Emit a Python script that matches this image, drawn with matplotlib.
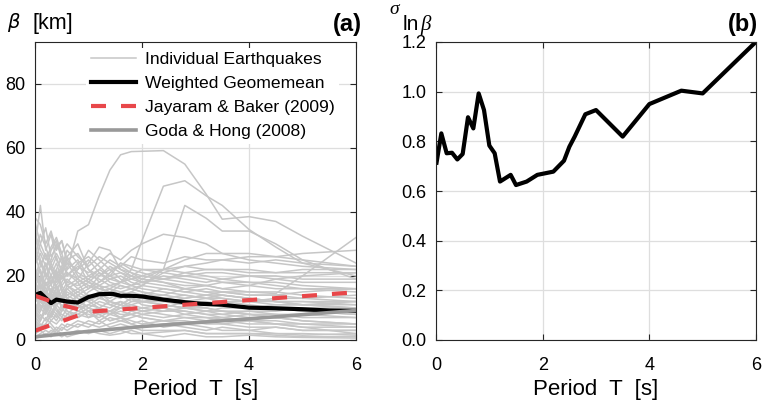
import numpy as np
import matplotlib
matplotlib.use('Agg')
import matplotlib.pyplot as plt

plt.rcParams['font.family'] = ['Liberation Sans', 'DejaVu Sans']

# periods used for the individual earthquake curves
periods = [0.01, 0.1, 0.2, 0.3, 0.4, 0.5, 0.6, 0.8, 1.0, 1.2, 1.4, 1.6, 1.8, 2.0,
           2.4, 2.8, 3.2, 3.5, 4.0, 4.5, 5.0, 6.0]

# range parameter of each earthquake [km]
eq_beta = [
    [18, 22, 17, 20, 24, 19, 22, 34, 36, 45, 53, 57.8, 58.8, 58.9, 59.1, 54.9, 45.5, 37.7, 38.5, 37, 32.4, 24],
    [15, 12, 18, 14, 20, 16, 13, 15, 17, 16, 17, 18, 22, 31, 48, 49.7, 45, 42, 34.5, 29, 24, 20],
    [10, 13, 9, 14, 11, 12, 15, 13, 12, 14, 13, 15, 16, 17, 22, 42, 38, 34, 34, 30, 25, 19],
    [20, 25, 21, 18, 22, 26, 20, 23, 21, 24, 27, 25, 28, 30, 33, 32, 30, 27, 25, 24, 23, 22],
    [8, 12, 10, 7, 11, 9, 12, 10, 11, 13, 12, 14, 15, 14, 16, 15, 16, 15, 15, 14.5, 20, 32],
    [30, 42, 28, 33, 25, 22, 26, 20, 18, 21, 19, 20, 18, 17, 16, 15, 14, 14, 13, 12, 12, 11],
    [38, 36, 30, 34, 28, 31, 25, 27, 22, 20, 23, 21, 20, 19, 18, 17, 17, 16, 15, 15, 14, 13],
    [25, 30, 35, 26, 29, 31, 24, 22, 28, 25, 22, 23, 21, 20, 22, 21, 20, 19, 20, 19, 18, 18],
    [12, 15, 22, 28, 31, 25, 20, 24, 18, 16, 15, 17, 16, 15, 13, 12, 12, 11, 10, 10, 9, 8],
    [5, 8, 6, 10, 14, 20, 26, 30, 22, 18, 20, 24, 22, 21, 19, 18, 17, 16, 17, 19, 20, 21],
    [22, 18, 24, 20, 16, 18, 21, 19, 24, 29, 28, 22, 20, 18, 17, 16, 15, 14, 13, 12, 11, 10],
    [3, 5, 4, 6, 5, 7, 6, 8, 7, 9, 8, 10, 9, 10, 11, 10, 11, 12, 12, 13, 13, 14],
    [1, 2, 3, 2, 4, 3, 5, 4, 6, 5, 7, 6, 7, 8, 7, 8, 9, 8, 9, 9, 10, 10],
    [14, 10, 12, 16, 13, 15, 11, 14, 16, 20, 22, 19, 17, 16, 15, 14, 13, 13, 12, 11, 11, 10],
    [17, 20, 14, 18, 22, 17, 19, 16, 14, 13, 15, 14, 12, 12, 11, 10, 10, 9, 9, 8, 8, 7],
    [9, 6, 11, 8, 12, 14, 10, 12, 15, 17, 14, 13, 15, 17, 21, 23, 24, 25, 26, 26, 27, 28],
    [28, 24, 20, 23, 18, 20, 17, 19, 16, 18, 21, 24, 23, 22, 22, 23, 22, 22, 21, 21, 22, 22],
    [6, 4, 7, 5, 3, 5, 4, 6, 5, 4, 5, 6, 5, 4, 5, 4, 3, 4, 3, 4, 3, 3],
    [2, 3, 1.5, 3, 2, 1, 2, 3, 2, 3, 2, 3, 2, 2, 1, 2, 1, 1, 1.5, 1, 0.8, 0.6],
    [11, 9, 13, 10, 8, 11, 9, 8, 10, 9, 8, 9, 8, 7, 6, 7, 6, 5, 6, 5, 5, 4],
    [19, 23, 27, 22, 19, 21, 25, 21, 19, 22, 20, 18, 19, 20, 19, 20, 21, 21, 20, 20, 19, 19],
    [7, 10, 8, 12, 9, 8, 7, 9, 11, 10, 12, 11, 13, 12, 13, 14, 13, 12, 11, 10, 9, 8],
    [24, 27, 23, 25, 30, 27, 22, 25, 20, 22, 25, 23, 26, 25, 24, 26, 25, 25, 24, 25, 24, 23],
    [4, 7, 9, 6, 8, 6, 8, 7, 9, 8, 6, 7, 6, 5, 6, 5, 6, 7, 6, 5, 4, 2],
    [13, 17, 15, 20, 17, 13, 16, 18, 13, 11, 10, 12, 11, 10, 9, 9, 8, 8, 7, 7, 6, 5],
    [33, 28, 25, 29, 32, 27, 30, 26, 23, 26, 24, 22, 21, 19, 18, 16, 15, 15, 14, 14, 13, 12],
    [16, 14, 18, 15, 17, 20, 18, 17, 19, 17, 16, 18, 20, 22, 21, 20, 19, 18, 17, 16, 16, 15],
    [10, 12, 15, 12, 14, 10, 13, 11, 9, 10, 9, 10, 11, 12, 12, 11, 10, 9, 8, 7, 6, 5],
    [21, 16, 19, 24, 20, 23, 28, 24, 26, 23, 20, 21, 19, 18, 20, 19, 18, 19, 18, 18, 17, 16],
    [27, 33, 29, 24, 27, 24, 21, 18, 20, 19, 17, 16, 17, 18, 19, 21, 22, 22, 22, 21, 21, 21],
    [5, 3, 5, 8, 6, 9, 11, 9, 8, 7, 9, 8, 8, 9, 8, 7, 7, 6, 5, 5, 4, 4],
    [15, 19, 24, 17, 21, 15, 18, 22, 25, 21, 18, 17, 16, 15, 14, 13, 14, 13, 12, 12, 11, 11],
    [8, 11, 9, 13, 16, 12, 14, 12, 10, 12, 11, 10, 12, 13, 14, 16, 17, 18, 18, 17, 16, 16],
    [12, 14, 11, 16, 13, 17, 14, 16, 18, 17, 19, 18, 17, 19, 22, 25, 27, 27, 27, 26, 25, 23],
    [36, 30, 26, 22, 26, 21, 24, 19, 17, 15, 16, 14, 13, 12, 11, 10, 9, 9, 8, 8, 7, 7],
    [0.5, 1, 2, 1, 3, 2, 1, 2, 3, 2, 1.5, 2, 3, 2, 2.5, 3, 2, 2, 2, 1.5, 1, 1],
    [26, 21, 16, 12, 15, 10, 8, 11, 7, 8, 6, 7, 5, 6, 4, 5, 4, 3, 3, 2, 2, 1.5],
    [9, 14, 18, 15, 11, 13, 9, 7, 9, 6, 8, 7, 9, 8, 9, 10, 9, 10, 10, 11, 11, 12],
    [3, 6, 9, 13, 10, 7, 10, 14, 12, 10, 9, 11, 10, 9, 10, 8, 7, 7, 6, 6, 5, 5],
    [14, 18, 13, 9, 7, 10, 13, 10, 13, 15, 12, 11, 13, 11, 10, 12, 13, 14, 13, 12, 12, 12],
    [32, 25, 20, 17, 14, 12, 16, 13, 10, 8, 9, 7, 8, 7, 6, 6, 5, 5, 4, 4, 3, 3],
    [6, 9, 14, 11, 17, 13, 17, 15, 13, 14, 16, 15, 14, 13, 12, 13, 14, 15, 14, 14, 15, 16],
    [2, 4, 5, 4, 2, 4, 3, 5, 4, 6, 4, 5, 4, 3, 3, 3, 2, 2, 2, 2, 1.5, 2],
    [18, 13, 10, 15, 19, 22, 17, 14, 12, 14, 11, 12, 10, 9, 10, 9, 8, 7, 8, 7, 8, 9],
]

# weighted geomean
gm_T = [0.01, 0.1, 0.2, 0.3, 0.4, 0.6, 0.8, 1.0, 1.2, 1.45, 1.6, 1.8, 2.0, 2.4, 2.8, 3.1,
        3.5, 4.0, 4.5, 5.0, 5.5, 6.0]
gm_beta = [14.1, 14.7, 13.1, 11.5, 12.6, 12.0, 11.7, 13.4, 14.3, 14.4, 13.8, 13.8, 13.6,
           12.6, 11.8, 11.3, 11.0, 10.1, 9.9, 9.6, 9.2, 9.1]

# Jayaram & Baker (2009), two branches below 1 s
jb_T = [0, 0.5, 1, 6]
jb_beta_a = [13.8, 10.9, 8.8, 14.9]
jb_T2 = [0, 1]
jb_beta_b = [2.9, 8.8]

# Goda & Hong (2008)
gh_T = [0, 1, 2, 3, 4, 5, 6]
gh_beta = [1.0, 2.7, 4.2, 5.4, 6.6, 7.9, 9.2]

# standard deviation of ln(beta)
sig_T = [0.01, 0.1, 0.2, 0.3, 0.4, 0.5, 0.6, 0.7, 0.8, 0.9, 1.0, 1.1, 1.2, 1.4, 1.5, 1.7,
         1.9, 2.2, 2.4, 2.5, 2.6, 2.8, 3.0, 3.5, 4.0, 4.6, 5.0, 6.0]
sig_lnb = [0.714, 0.832, 0.752, 0.754, 0.727, 0.749, 0.897, 0.852, 0.993, 0.926, 0.783,
           0.752, 0.638, 0.665, 0.624, 0.638, 0.665, 0.678, 0.722, 0.778, 0.819, 0.909,
           0.926, 0.819, 0.950, 1.004, 0.993, 1.201]

fig = plt.figure(figsize=(7.63, 4.04), dpi=100)
ax1 = fig.add_axes([35/763, 64/404, 321/763, 298/404])
ax2 = fig.add_axes([436/763, 64/404, 320/763, 298/404])

for ax in (ax1, ax2):
    ax.grid(True, color='#dedede', linewidth=0.9)
    ax.set_axisbelow(True)
    ax.tick_params(direction='in', top=True, right=True, length=4, width=0.8,
                   labelsize=13, color='#262626')
    ax.tick_params(axis='x', pad=12)
    ax.tick_params(axis='y', pad=7)
    for s in ax.spines.values():
        s.set_color('#262626')
        s.set_linewidth(0.8)
    ax.set_xlim(0, 6)
    ax.set_xticks([0, 2, 4, 6])
    ax.set_xlabel('Period  T  [s]', fontsize=16, labelpad=4)

# panel (a)
for i, b in enumerate(eq_beta):
    ax1.plot(periods, b, color='#c6c6c6', lw=1.1,
             label='Individual Earthquakes' if i == 0 else None)
ax1.plot(gm_T, gm_beta, color='black', lw=3, label='Weighted Geomemean')
ax1.plot(jb_T, jb_beta_a, color='#e8474a', lw=3, dashes=(3.6, 3.6),
         label='Jayaram & Baker (2009)')
ax1.plot(jb_T2, jb_beta_b, color='#e8474a', lw=3, dashes=(3.6, 3.6))
ax1.plot(gh_T, gh_beta, color='#999999', lw=2.6, label='Goda & Hong (2008)')
ax1.set_ylim(0, 93)
ax1.set_yticks([0, 20, 40, 60, 80])
leg = ax1.legend(loc='upper right', bbox_to_anchor=(0.975, 1.01), fontsize=12.6,
                 frameon=True, edgecolor='none', facecolor='white', framealpha=1,
                 fancybox=False, handlelength=2.6, handletextpad=0.5,
                 labelspacing=0.5, borderpad=0.25)

fig.text(7/763, 1 - 22/404, r'$\beta$', fontsize=14, va='center', ha='left',
         family='Liberation Serif', style='italic')
fig.text(33/763, 1 - 23/404, '[km]', fontsize=15.5, va='center', ha='left')
fig.text(362/763, 1 - 25/404, '(a)', fontsize=17, fontweight='bold', va='center', ha='right')

# panel (b)
ax2.plot(sig_T, sig_lnb, color='black', lw=3)
ax2.set_ylim(0, 1.2)
ax2.set_yticks(np.arange(0, 1.21, 0.2))
ax2.yaxis.set_major_formatter(matplotlib.ticker.FormatStrFormatter('%.1f'))

fig.text(389/763, 1 - 9/404, 'σ', fontsize=14, va='center', ha='left',
         family='Liberation Serif', style='italic')
fig.text(403/763, 1 - 25/404, 'ln', fontsize=15, va='center', ha='left')
fig.text(420/763, 1 - 25/404, 'β', fontsize=15, va='center', ha='left',
         family='Liberation Serif', style='italic')
fig.text(758/763, 1 - 25/404, '(b)', fontsize=17, fontweight='bold', va='center', ha='right')

fig.savefig('out.png', dpi=100)
